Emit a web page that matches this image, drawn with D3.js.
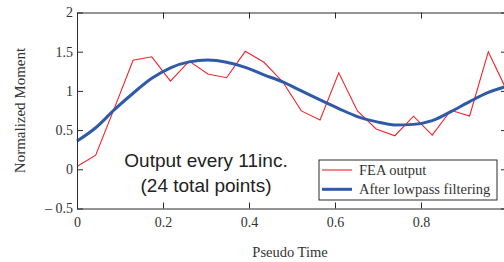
<!DOCTYPE html>
<html>
<head>
<meta charset="utf-8">
<script src="https://cdn.jsdelivr.net/npm/d3@7"></script>
<style>
  html, body { margin: 0; padding: 0; background: #fff; }
  svg { display: block; }
</style>
</head>
<body>
<div id="chart"></div>
<script>
// ── Data ─────────────────────────────────────
const nPoints = 24;
const feaOutput = [
  0.035, 0.18, 0.78, 1.39, 1.435, 1.125, 1.38, 1.215, 1.168, 1.505, 1.365, 1.117,
  0.745, 0.63, 1.23, 0.745, 0.515, 0.428, 0.677, 0.435, 0.753, 0.68, 1.50, 1.0
];
const lowpass = [
  0.36, 0.53, 0.76, 0.97, 1.16, 1.295, 1.37, 1.393, 1.365, 1.30, 1.205, 1.115,
  1.0, 0.885, 0.775, 0.672, 0.608, 0.566, 0.573, 0.62, 0.735, 0.863, 0.98, 1.06
];
const xTicks = [0, 0.2, 0.4, 0.6, 0.8, 1];
const xTickLabels = ["0", "0.2", "0.4", "0.6", "0.8", ""];   // "1" falls off the page
const yTicks = [-0.5, 0, 0.5, 1, 1.5, 2];
const yTickLabels = ["\u2013 0.5", "0", "0.5", "1", "1.5", "2"];
const legendLabels = ["FEA output", "After lowpass filtering"];
const noteLines = ["Output every 11inc.", "(24 total points)"];

// ── Layout ───────────────────────────────────
const W = 504, H = 262;
const margin = { left: 77, top: 12.5, right: -3, bottom: 53.5 };
const innerW = W - margin.left - margin.right;
const innerH = H - margin.top - margin.bottom;

const serif = "'Liberation Serif', 'Times New Roman', serif";
const sans  = "'Liberation Sans', Arial, sans-serif";

const x = d3.scaleLinear().domain([0, 1]).range([0, innerW]);
const y = d3.scaleLinear().domain([-0.5, 2]).range([innerH, 0]);
const tOf = i => i / (nPoints - 1);

const svg = d3.select("#chart").append("svg")
  .attr("width", W).attr("height", H);

const g = svg.append("g").attr("transform", `translate(${margin.left},${margin.top})`);

// ── Series ───────────────────────────────────
const line = d3.line().x((d, i) => x(tOf(i))).y(d => y(d));

g.append("path")
  .datum(feaOutput)
  .attr("d", line)
  .attr("fill", "none")
  .attr("stroke", "#f4222a")
  .attr("stroke-width", 1.1);

g.append("path")
  .datum(lowpass)
  .attr("d", line.curve(d3.curveMonotoneX))
  .attr("fill", "none")
  .attr("stroke", "#2e5aa8")
  .attr("stroke-width", 3);

// ── Axes (box with inward ticks) ─────────────
const frame = "#2b2b2b";
const tickLen = 6;
function style(sel) {
  sel.select(".domain").attr("stroke", frame);
  sel.selectAll(".tick line").attr("stroke", frame);
  sel.selectAll(".tick text")
    .attr("fill", "#333")
    .attr("font-size", "14px")
    .attr("font-family", serif);
}

g.append("g")
  .attr("transform", `translate(0,${innerH})`)
  .call(d3.axisBottom(x).tickValues(xTicks).tickSize(-tickLen).tickPadding(9)
    .tickFormat((d, i) => xTickLabels[i]).tickSizeOuter(0))
  .call(style);

g.append("g")
  .call(d3.axisTop(x).tickValues(xTicks).tickSize(-tickLen).tickFormat("").tickSizeOuter(0))
  .call(style);

g.append("g")
  .call(d3.axisLeft(y).tickValues(yTicks).tickSize(-tickLen).tickPadding(4)
    .tickFormat((d, i) => yTickLabels[i]).tickSizeOuter(0))
  .call(style);

g.append("g")
  .attr("transform", `translate(${innerW},0)`)
  .call(d3.axisRight(y).tickValues(yTicks).tickSize(-tickLen).tickFormat("").tickSizeOuter(0))
  .call(style);

// ── Axis titles ──────────────────────────────
svg.append("text")
  .attr("x", margin.left + innerW / 2 - 2)
  .attr("y", 257)
  .attr("text-anchor", "middle")
  .attr("font-family", serif)
  .attr("font-size", "14.5px")
  .attr("fill", "#333")
  .text("Pseudo Time");

svg.append("text")
  .attr("transform", `translate(24.5,${margin.top + innerH / 2}) rotate(-90)`)
  .attr("text-anchor", "middle")
  .attr("font-family", serif)
  .attr("font-size", "15px")
  .attr("fill", "#333")
  .text("Normalized Moment");

// ── Annotation ───────────────────────────────
svg.selectAll(".note")
  .data(noteLines)
  .join("text")
  .attr("class", "note")
  .attr("x", 206)
  .attr("y", (d, i) => 166.5 + i * 25)
  .attr("text-anchor", "middle")
  .attr("font-family", sans)
  .attr("font-size", "19px")
  .attr("fill", "#222")
  .text(d => d);

// ── Legend ───────────────────────────────────
const legend = svg.append("g").attr("transform", "translate(319,160)");
legend.append("rect")
  .attr("width", 178).attr("height", 40)
  .attr("fill", "#fff")
  .attr("stroke", frame)
  .attr("stroke-width", 1);

const legendColors = ["#f4222a", "#2e5aa8"];
const legendWidths = [1.1, 3];
legendLabels.forEach((label, i) => {
  const ly = 10 + i * 19.3;
  legend.append("line")
    .attr("x1", 3).attr("x2", 33)
    .attr("y1", ly).attr("y2", ly)
    .attr("stroke", legendColors[i])
    .attr("stroke-width", legendWidths[i]);
  legend.append("text")
    .attr("x", 40)
    .attr("y", ly + 5)
    .attr("font-family", serif)
    .attr("font-size", "14.5px")
    .attr("fill", "#333")
    .text(label);
});
</script>
</body>
</html>
